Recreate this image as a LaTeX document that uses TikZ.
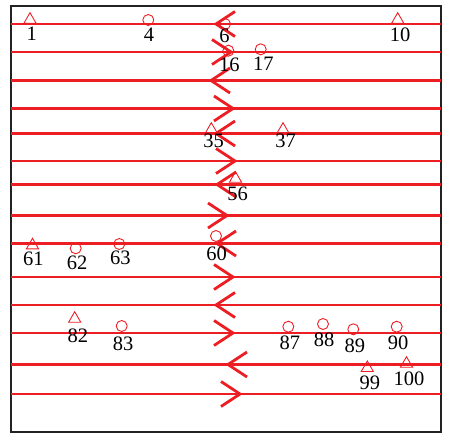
\documentclass[tikz,border=0pt]{standalone}
\usepackage{fontspec}
\setmainfont{Liberation Serif}
\usetikzlibrary{shapes.geometric, calc}
\definecolor{trackred}{RGB}{236,30,36}
\definecolor{framegray}{RGB}{34,34,34}

\begin{document}
\begin{tikzpicture}[x=1pt, y=-1pt,
    track/.style={draw=trackred, line width=2.8pt},
    chev/.style={draw=trackred, line width=2.8pt},
    framebox/.style={draw=framegray, line width=2.8pt},
    tri/.style={regular polygon, regular polygon sides=3, draw=trackred,
        line width=0.9pt, minimum size=14pt, inner sep=0pt},
    dot/.style={circle, draw=trackred, line width=0.9pt,
        minimum size=11pt, inner sep=0pt},
    lab/.style={anchor=base, inner sep=0pt, font=\fontsize{20.5}{22}\selectfont}
]
\useasboundingbox (0,0) rectangle (449,434);
% outer frame
\draw[framebox] (11,6) rectangle (441,432);
% tracks with direction marks (y / direction / tip x)
\foreach \y/\d/\t in {24/-1/216, 52/1/231, 80.5/-1/211, 108.5/1/233,
    133.5/-1/216, 161/1/235, 184.5/-1/217, 215.5/1/227, 243.5/-1/217,
    277/1/233, 305/-1/216, 333/1/233, 364.5/-1/228, 394/1/240}{
  \draw[track] (11,\y) -- (441,\y);
  \draw[chev] ({\t-(\d)*19},{\y-12.5}) -- (\t,\y) -- ({\t-(\d)*19},{\y+12.5});
}
% triangle marks
\foreach \n/\x/\y/\lx/\ly in {1/30/19.7/31.7/40.7, 10/397.7/19.7/400/41.7,
    35/211.3/129.7/213.7/147.7, 37/283/129.7/285.7/147.5,
    56/235.5/178.7/237.5/200, 61/32.5/245.3/33.3/265,
    82/74.7/318.7/77.8/342.3, 99/367.3/368/369.8/389.3,
    100/406.5/363.7/409/385}{
  \node[tri] (t\n) at (\x,\y) {};
  \node[lab] (n\n) at (\lx,\ly) {\n};
}
% circle marks
\foreach \n/\x/\y/\lx/\ly in {4/148.3/20/149/41.7, 6/225/24/224.5/42.7,
    16/228.3/50.7/229.3/71.7, 17/260.7/49.3/263.3/70,
    60/216/236/216.7/260, 62/75.7/248.3/77/269, 63/119.3/244/120.3/264,
    83/121.7/326/123/350.7, 87/288.3/326.7/289.8/349.3,
    88/323/324/324/346.7, 89/353.3/329.3/354.8/352,
    90/396.7/326.7/398.2/349.3}{
  \node[dot] (c\n) at (\x,\y) {};
  \node[lab] (n\n) at (\lx,\ly) {\n};
}
\end{tikzpicture}
\end{document}
